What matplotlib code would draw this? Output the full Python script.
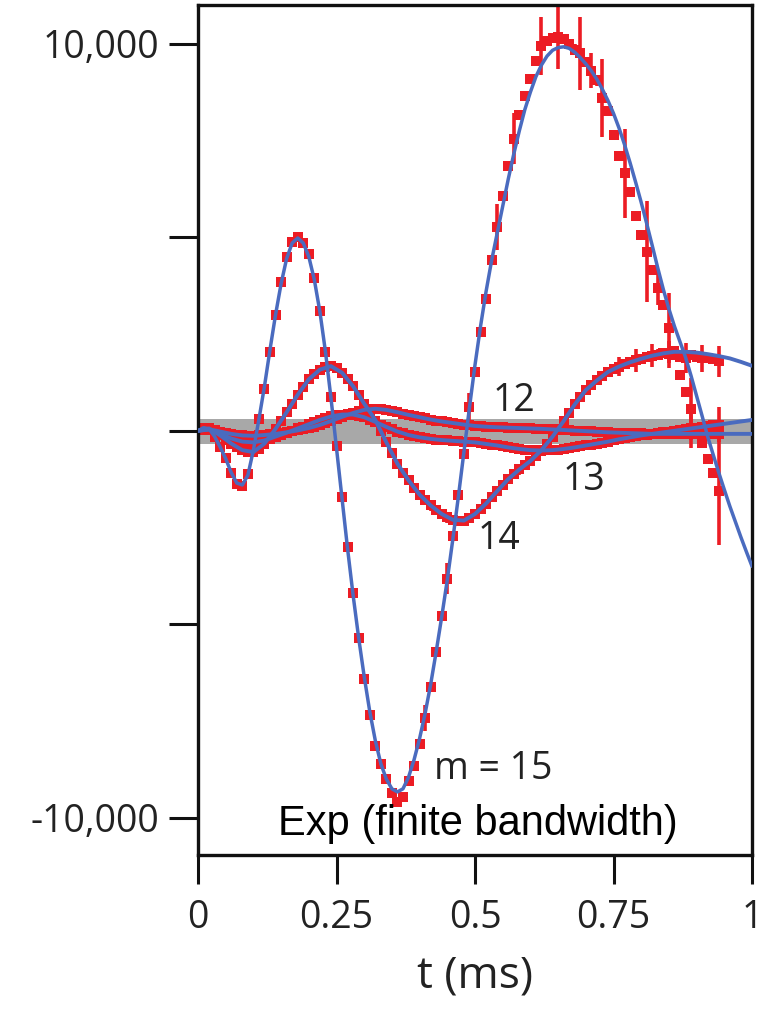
import numpy as np
import matplotlib
matplotlib.use("Agg")
import matplotlib.pyplot as plt
from matplotlib.ticker import FixedLocator, FixedFormatter

# ---------------- data ----------------
t_fit15 = np.round(np.arange(0, 101) * 0.01, 2)
fit15 = [0, 80, 50, -150, -420, -720, -1080, -1350, -1400, -1150,
         -500, 300, 1150, 2100, 3000, 3800, 4450, 4850, 4980, 4850,
         4500, 3900, 3080, 2050, 850, -450, -1750, -3050, -4250, -5350,
         -6350, -7250, -8000, -8600, -9000, -9250, -9330, -9250, -8950, -8500,
         -7950, -7300, -6550, -5700, -4800, -3850, -2800, -1700, -550, 600,
         1700, 2700, 3600, 4400, 5100, 5800, 6500, 7150, 7750, 8300,
         8750, 9150, 9450, 9680, 9830, 9900, 9920, 9880, 9780, 9640,
         9480, 9300, 9080, 8820, 8530, 8200, 7820, 7390, 6920, 6420,
         5900, 5350, 4780, 4200, 3650, 3150, 2700, 2300, 1900, 1420,
         900, 380, -150, -620, -1080, -1520, -1950, -2350, -2750, -3130,
         -3500]

t_fit = np.round(np.arange(0, 51) * 0.02, 2)
fit14 = [0, 60, -120, -330, -500, -550, -330, 50, 480, 930,
         1330, 1580, 1670, 1500, 1150, 700, 280, -300, -850, -1280,
         -1650, -1930, -2150, -2300, -2320, -2150, -1880, -1560, -1250, -1000,
         -780, -500, -150, 250, 680, 1050, 1300, 1520, 1660, 1770,
         1860, 1940, 2000, 2040, 2040, 2020, 1980, 1930, 1870, 1780,
         1680]
fit13 = [0, 30, -80, -200, -280, -300, -250, -150, -50, 60,
         170, 280, 370, 420, 420, 350, 230, 100, -20, -110,
         -170, -210, -240, -260, -280, -300, -340, -380, -430, -470,
         -500, -510, -500, -470, -430, -380, -330, -280, -220, -170,
         -120, -80, -40, 0, 40, 80, 120, 160, 200, 240,
         280]
fit12 = [0, 40, -20, -80, -120, -130, -110, -80, -40, 10,
         70, 150, 250, 360, 460, 540, 570, 540, 480, 410,
         350, 290, 240, 200, 160, 125, 105, 90, 80, 70,
         60, 50, 35, 20, 5, -10, -25, -40, -50, -60,
         -70, -80, -80, -80, -80, -80, -80, -80, -80, -80,
         -80]

t_data = np.round(np.arange(1, 95) * 0.01, 2)
data15 = [80, 50, -150, -420, -700, -1100, -1380, -1420, -1120, -480,
          300, 1085, 2040, 3000, 3850, 4500, 4880, 5000, 4850, 4570,
          3950, 3100, 2040, 880, -400, -1700, -3000, -4200, -5350, -6420,
          -7340, -8140, -8620, -9000, -9350, -9580, -9450, -9050, -8650, -8100,
          -7420, -6620, -5710, -4780, -3820, -2720, -1650, -600, 620, 1520,
          2560, 3410, 4400, 5270, 6070, 6850, 7550, 8150, 8650, 9100,
          9560, 9950, 10080, 10150, 10180, 10130, 10000, 9850, 9750, 9530,
          9300, 9050, 8600, 8250, 7650, 7100, 6650, 6180, 5550, 5050,
          4630, 4150, 3700, 3250, 2650, 2050, 1450, 1000, 570, 80,
          -320, -720, -1100, -1550]
data14 = [40, 60, -30, -120, -230, -330, -430, -500, -560, -550,
          -460, -330, -150, 50, 260, 480, 700, 930, 1140, 1330,
          1470, 1580, 1650, 1670, 1610, 1500, 1340, 1150, 930, 700,
          480, 250, 0, -300, -580, -850, -1080, -1280, -1470, -1650,
          -1800, -1930, -2050, -2150, -2240, -2300, -2340, -2320, -2250, -2150,
          -2020, -1880, -1720, -1560, -1400, -1250, -1120, -1000, -890, -780,
          -650, -500, -330, -150, 50, 250, 470, 680, 870, 1050,
          1180, 1300, 1420, 1520, 1600, 1660, 1720, 1770, 1820, 1860,
          1900, 1940, 1970, 2000, 1980, 1950, 1900, 1880, 1950, 1900,
          1870, 1880, 1850, 1800]
data13 = [20, 30, -20, -80, -140, -200, -250, -280, -300, -300,
          -280, -250, -200, -150, -100, -50, 0, 60, 110, 170,
          220, 280, 330, 370, 400, 420, 430, 420, 390, 350,
          290, 230, 160, 100, 40, -20, -70, -110, -140, -170,
          -190, -210, -230, -240, -250, -260, -270, -280, -290, -300,
          -320, -340, -360, -380, -400, -430, -450, -470, -490, -500,
          -505, -510, -505, -500, -485, -470, -450, -430, -400, -380,
          -355, -330, -305, -280, -250, -220, -195, -170, -145, -120,
          -100, -80, -60, -40, -20, 0, 20, 40, 60, 80,
          100, 120, 140, 160]
data12 = [20, 40, 10, -20, -50, -80, -100, -120, -125, -130,
          -120, -110, -95, -80, -60, -40, -15, 10, 40, 70,
          110, 150, 200, 250, 300, 360, 410, 460, 500, 540,
          560, 570, 560, 540, 510, 480, 445, 410, 380, 350,
          320, 290, 265, 240, 220, 200, 180, 160, 140, 125,
          115, 105, 95, 90, 85, 80, 75, 70, 65, 60,
          55, 50, 42, 35, 28, 20, 12, 5, -2, -10,
          -18, -25, -32, -40, -45, -50, -55, -60, -65, -70,
          -75, -80, -80, -80, -80, -80, -80, -80, -80, -80,
          -80, -80, -80, -80]

# error bars (uncertainty of each data point)
err15 = [130] * 94
err15_large = {0.41: 330, 0.45: 400, 0.49: 350, 0.54: 600, 0.57: 650, 0.62: 750,
               0.65: 830, 0.69: 950, 0.71: 450, 0.73: 1000, 0.77: 1150,
               0.81: 1300, 0.83: 450, 0.85: 900, 0.89: 800, 0.94: 1400}
err14 = [130] * 94
err14_large = {0.76: 250, 0.79: 300, 0.82: 300, 0.85: 350, 0.88: 400, 0.91: 350, 0.94: 400}
err13 = [110] * 94
err13_large = {0.89: 500, 0.94: 450}
err12 = [110] * 94

for d, e in ((err15_large, err15), (err14_large, err14), (err13_large, err13)):
    for tk, v in d.items():
        e[int(round(tk * 100)) - 1] = v

noise_band = (-350, 310)

x_ticks = [0, 0.25, 0.5, 0.75, 1]
x_labels = ["0", "0.25", "0.5", "0.75", "1"]
y_ticks = [-10000, -5000, 0, 5000, 10000]
y_labels = ["-10,000", "", "", "", "10,000"]

# ---------------- plot ----------------
RED = "#EC1C24"
BLUE = "#4A6BBF"
GRAY = "#A8A8A8"
NUMFONT = ["Open Sans", "DejaVu Sans"]
TXT = "#222222"

fig = plt.figure(figsize=(7.58, 10.10), dpi=100)
ax = fig.add_axes([198 / 758, 155 / 1010, 554 / 758, 850 / 1010])

ax.axhspan(noise_band[0], noise_band[1], color=GRAY, lw=0, zorder=1)

for d, e in ((data12, err12), (data13, err13), (data14, err14), (data15, err15)):
    ax.errorbar(t_data, d, yerr=e, fmt="s", color=RED, ecolor=RED,
                markersize=7.2, markeredgewidth=0, elinewidth=2.6,
                capsize=6, capthick=2.6, zorder=2)

for f in (fit12, fit13, fit14):
    ax.plot(t_fit, f, color=BLUE, lw=2.8, zorder=3, solid_capstyle="round")
ax.plot(t_fit15, fit15, color=BLUE, lw=2.5, zorder=3, solid_capstyle="round")

ax.set_xlim(0, 1)
ax.set_ylim(-10960, 11000)

ax.xaxis.set_major_locator(FixedLocator(x_ticks))
ax.xaxis.set_major_formatter(FixedFormatter(x_labels))
ax.yaxis.set_major_locator(FixedLocator(y_ticks))
ax.yaxis.set_major_formatter(FixedFormatter(y_labels))
ax.tick_params(direction="out", length=21, width=2.2, colors="#111111",
               labelsize=27)
ax.tick_params(axis="x", pad=11)
ax.tick_params(axis="y", pad=7)
for lab in ax.get_xticklabels() + ax.get_yticklabels():
    lab.set_family(NUMFONT)
    lab.set_color(TXT)
for s in ax.spines.values():
    s.set_linewidth(2.4)
    s.set_color("#111111")

ax.set_xlabel("t (ms)", family=NUMFONT, fontsize=32, color=TXT, labelpad=12)

ax.text(0.426, -9000, "m = 15", family=NUMFONT, fontsize=27, color=TXT)
ax.text(0.5315, 520, "12", family=NUMFONT, fontsize=27, color=TXT)
ax.text(0.6585, -1530, "13", family=NUMFONT, fontsize=27, color=TXT)
ax.text(0.5055, -3050, "14", family=NUMFONT, fontsize=27, color=TXT)
ax.text(0.505, 0.024, "Exp (finite bandwidth)", transform=ax.transAxes,
        ha="center", va="baseline", family=["Liberation Sans", "DejaVu Sans"],
        fontsize=30, color="black")

fig.savefig("out.png", dpi=100)
